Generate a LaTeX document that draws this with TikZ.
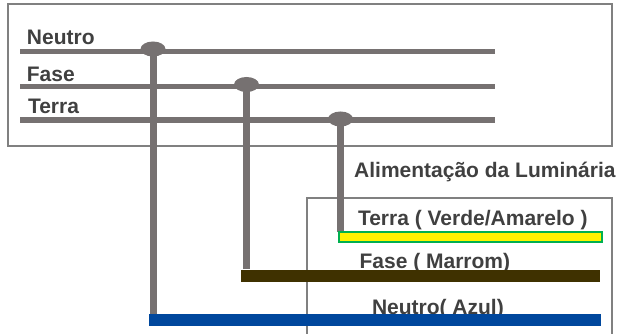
\documentclass[tikz,border=0pt]{standalone}
\usepackage{fontspec}
\setmainfont{Liberation Sans}
\definecolor{wiregray}{HTML}{767171}
\definecolor{boxgray}{HTML}{808080}
\definecolor{txtgray}{HTML}{404040}
\definecolor{brownw}{HTML}{3F3100}
\definecolor{bluew}{HTML}{00479D}
\definecolor{greenw}{HTML}{00B050}
\tikzset{
  lbl/.style={inner sep=0pt, anchor=base west, text=txtgray, font=\fontsize{21}{24}\selectfont\bfseries},
  frame/.style={draw=boxgray, line width=2pt},
  bus/.style={draw=wiregray, line width=5.5pt},
  drop/.style={draw=wiregray, line width=7pt},
  junction/.style={ellipse, fill=wiregray, minimum width=25pt, minimum height=15pt, inner sep=0pt},
  bar/.style={rectangle, inner sep=0pt, anchor=north west, minimum height=12.5pt}
}
\usetikzlibrary{shapes.geometric}
\begin{document}
\begin{tikzpicture}[x=1pt,y=-1pt]
\useasboundingbox (0,0) rectangle (622,334);
% frames
\draw[frame] (8,4.5) rectangle (612,146);
\begin{scope}
\clip (0,0) rectangle (622,334);
\draw[frame] (307,198) rectangle (612,345);
\end{scope}
% bus lines
\coordinate (nL) at (20,51.3); \coordinate (nR) at (495,51.3);
\coordinate (fL) at (20,86.5); \coordinate (fR) at (495,86.5);
\coordinate (tL) at (20,120);  \coordinate (tR) at (495,120);
\draw[bus] (nL) -- (nR);
\draw[bus] (fL) -- (fR);
\draw[bus] (tL) -- (tR);
% labels
\node[lbl] (lN) at (26.8,45) {Neutro};
\node[lbl] (lF) at (26.7,81.7) {Fase};
\node[lbl] (lT) at (27.8,114) {Terra};
\node[lbl] (lA) at (354,178) {Alimentação da Luminária};
\node[lbl] (lTV) at (357.8,226) {Terra ( Verde/Amarelo )};
\node[lbl] (lFM) at (359.4,269) {Fase ( Marrom)};
\node[lbl] (lNA) at (371.8,314) {Neutro( Azul)};
% junctions
\node[junction] (j1) at (153,49) {};
\node[junction] (j2) at (246.5,84.5) {};
\node[junction] (j3) at (340.5,119) {};
% bars
\node[bar, draw=greenw, line width=2pt, fill=yellow, minimum width=263pt, minimum height=10pt] (yel) at (338,231) {};
\node[bar, fill=brownw, minimum width=359pt] (brn) at (241,269.5) {};
\node[bar, fill=bluew, minimum width=452pt] (blu) at (148.3,313.5) {};
% drops
\draw[drop] (j1.center) -- (j1.center |- blu.north);
\draw[drop] (j2.center) -- (j2.center |- brn.north);
\draw[drop] (j3.center) -- ([yshift=-1pt]j3.center |- yel.north);
% redraw bars on top of drops
\node[bar, draw=greenw, line width=2pt, fill=yellow, minimum width=263pt, minimum height=10pt] (yel2) at (338,231) {};
\end{tikzpicture}
\end{document}
